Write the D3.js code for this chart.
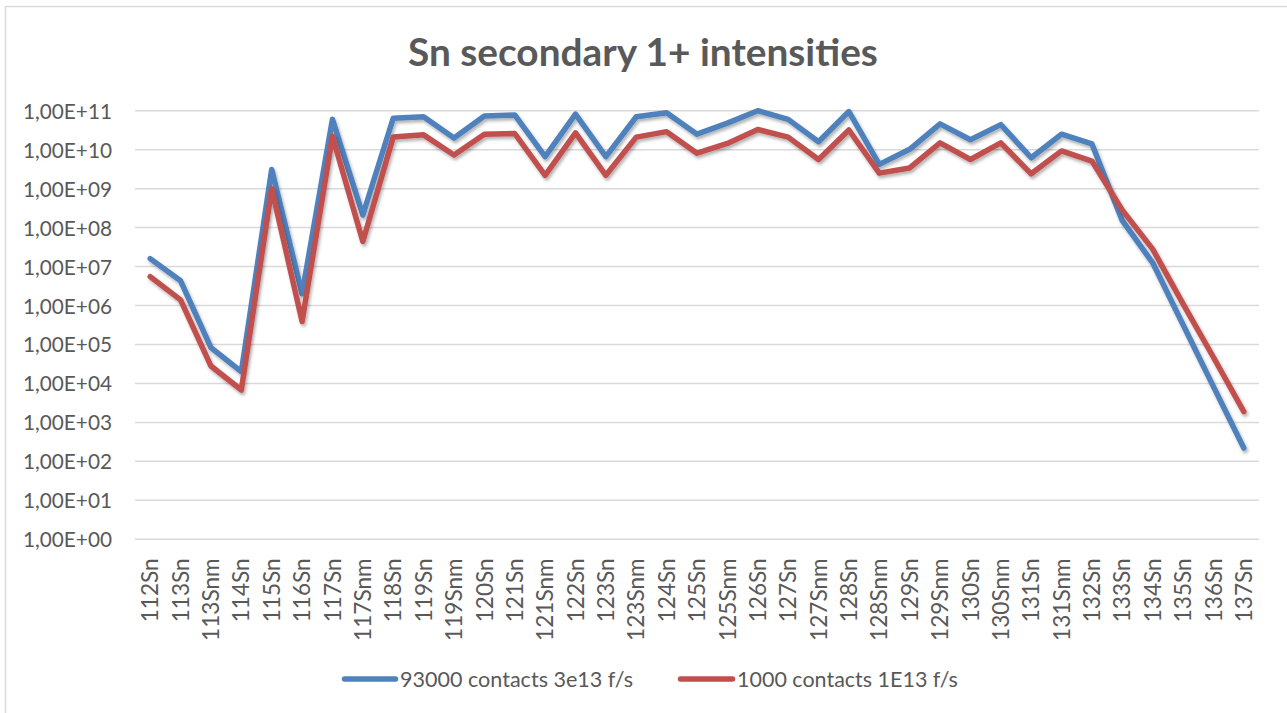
<!DOCTYPE html>
<html>
<head>
<meta charset="utf-8">
<script src="https://cdn.jsdelivr.net/npm/d3@7/dist/d3.min.js"></script>
<style>
  html, body { margin: 0; padding: 0; background: #fff; }
  svg { display: block; }
  text { font-family: Lato, "Open Sans", sans-serif; fill: #595959; }
</style>
</head>
<body>
<svg id="chart" width="1287" height="713"></svg>
<script>
// Isotopes / isomers along the x axis
const categories = ["112Sn","113Sn","113Snm","114Sn","115Sn","116Sn","117Sn","117Snm",
  "118Sn","119Sn","119Snm","120Sn","121Sn","121Snm","122Sn","123Sn","123Snm","124Sn",
  "125Sn","125Snm","126Sn","127Sn","127Snm","128Sn","128Snm","129Sn","129Snm","130Sn",
  "130Snm","131Sn","131Snm","132Sn","133Sn","134Sn","135Sn","136Sn","137Sn"];

// 1+ intensities, 93000 contacts at 3e13 fissions/s
const seriesA = [1.6e7, 4.3e6, 8.3e4, 2.0e4, 3.1e9, 2.0e6, 6.0e10, 2.1e8,
  6.4e10, 7.0e10, 2.0e10, 7.3e10, 7.8e10, 6.6e9, 8.2e10, 6.6e9, 7.0e10, 8.9e10,
  2.5e10, 4.8e10, 1.0e11, 6.0e10, 1.6e10, 9.5e10, 4.2e9, 1.02e10, 4.6e10, 1.8e10,
  4.4e10, 6.2e9, 2.5e10, 1.4e10, 1.5e8, 1.25e7, 3.2e5, 8.3e3, 2.2e2];

// 1+ intensities, 1000 contacts at 1e13 fissions/s
const seriesB = [5.5e6, 1.4e6, 2.8e4, 6.8e3, 1.0e9, 3.9e5, 2.2e10, 4.4e7,
  2.1e10, 2.4e10, 7.3e9, 2.5e10, 2.6e10, 2.2e9, 2.7e10, 2.2e9, 2.1e10, 2.9e10,
  8.1e9, 1.45e10, 3.3e10, 2.1e10, 5.6e9, 3.2e10, 2.5e9, 3.4e9, 1.5e10, 5.6e9,
  1.5e10, 2.4e9, 9.3e9, 5.1e9, 2.8e8, 2.8e7, 1.1e6, 4.7e4, 1.9e3];

const seriesNames = ["93000 contacts 3e13 f/s", "1000 contacts 1E13 f/s"];
const seriesColors = ["#4F81BD", "#C0504D"];

const yTickValues = [1e0,1e1,1e2,1e3,1e4,1e5,1e6,1e7,1e8,1e9,1e10,1e11];
const yTickLabels = ["1,00E+00","1,00E+01","1,00E+02","1,00E+03","1,00E+04","1,00E+05",
  "1,00E+06","1,00E+07","1,00E+08","1,00E+09","1,00E+10","1,00E+11"];

const titleText = "Sn secondary 1+ intensities";

const svg = d3.select("#chart");

// Size a text element's font so that its rendered width hits a target
function fitFont(sel, target, start) {
  sel.style("font-size", start + "px");
  const w = sel.node().getComputedTextLength();
  sel.style("font-size", (start * target / w).toFixed(2) + "px");
}

// Outer chart frame
svg.append("rect")
  .attr("x", 5.5).attr("y", 6.5).attr("width", 1400).attr("height", 800)
  .attr("fill", "#fff").attr("stroke", "#d9d9d9").attr("stroke-width", 1.5);

const plot = { left: 135, right: 1259, top: 110.7, bottom: 539.3 };

const x = d3.scaleBand().domain(categories).range([plot.left, plot.right]);
const xc = d => x(d) + x.bandwidth() / 2;
const y = d3.scaleLog().domain([1, 1e11]).range([plot.bottom, plot.top]);

// Soft shadow under the series lines
const defs = svg.append("defs");
const f = defs.append("filter").attr("id", "shadow")
  .attr("x", "-5%").attr("y", "-5%").attr("width", "110%").attr("height", "120%");
f.append("feDropShadow").attr("dx", 1.5).attr("dy", 2.5).attr("stdDeviation", 1.8)
  .attr("flood-color", "#000").attr("flood-opacity", 0.3);

// Horizontal gridlines
svg.append("g").selectAll("line").data(yTickValues).join("line")
  .attr("x1", plot.left).attr("x2", plot.right)
  .attr("y1", d => y(d)).attr("y2", d => y(d))
  .attr("stroke", "#d9d9d9").attr("stroke-width", 1.5);

// Y axis labels
const yAxis = d3.axisLeft(y).tickValues(yTickValues)
  .tickFormat((d, i) => yTickLabels[i]).tickSize(0).tickPadding(0);
const gy = svg.append("g").attr("transform", "translate(112,0)").call(yAxis);
gy.select(".domain").remove();
gy.selectAll("text").attr("fill", "#595959").attr("dy", "0.36em")
  .style("font-family", "Lato, 'Open Sans', sans-serif");
{
  const t0 = gy.select(".tick text");
  t0.style("font-size", "20px");
  const w = t0.node().getComputedTextLength();
  gy.selectAll("text").style("font-size", (20 * 89 / w).toFixed(2) + "px");
}

// X axis labels, rotated
const xAxis = d3.axisBottom(x).tickSize(0).tickPadding(0);
const gx = svg.append("g").attr("transform", `translate(0,${plot.bottom})`).call(xAxis);
gx.select(".domain").remove();
gx.selectAll("text")
  .attr("fill", "#595959")
  .attr("text-anchor", "end")
  .attr("transform", "rotate(-90)")
  .attr("x", -19).attr("y", 0).attr("dy", "0.36em")
  .style("font-family", "Lato, 'Open Sans', sans-serif");
{
  const t0 = gx.select(".tick text");
  t0.style("font-size", "20px");
  const w = t0.node().getComputedTextLength();
  gx.selectAll("text").style("font-size", (20 * 64 / w).toFixed(2) + "px");
}

// Series lines
const line = d3.line().x((d, i) => xc(categories[i])).y(d => y(d));
[seriesA, seriesB].forEach((s, k) => {
  svg.append("path").datum(s)
    .attr("d", line)
    .attr("fill", "none")
    .attr("stroke", seriesColors[k])
    .attr("stroke-width", 5.5)
    .attr("stroke-linejoin", "round")
    .attr("stroke-linecap", "round")
    .attr("filter", "url(#shadow)");
});

// Title
const title = svg.append("text")
  .attr("x", 643).attr("y", 66).attr("text-anchor", "middle")
  .style("font-weight", "bold").text(titleText);
fitFont(title, 470, 32);

// Legend
const legend = [
  { x1: 342, x2: 398, tx: 400, tw: 233 },
  { x1: 678, x2: 735, tx: 737, tw: 221 }
];
legend.forEach((l, k) => {
  svg.append("line")
    .attr("x1", l.x1 + 2.5).attr("x2", l.x2 - 2.5).attr("y1", 679).attr("y2", 679)
    .attr("stroke", seriesColors[k]).attr("stroke-width", 5.5)
    .attr("stroke-linecap", "round");
  const t = svg.append("text").attr("x", l.tx).attr("y", 679).attr("dy", "0.36em")
    .text(seriesNames[k]);
  fitFont(t, l.tw, 22);
});
</script>
</body>
</html>
